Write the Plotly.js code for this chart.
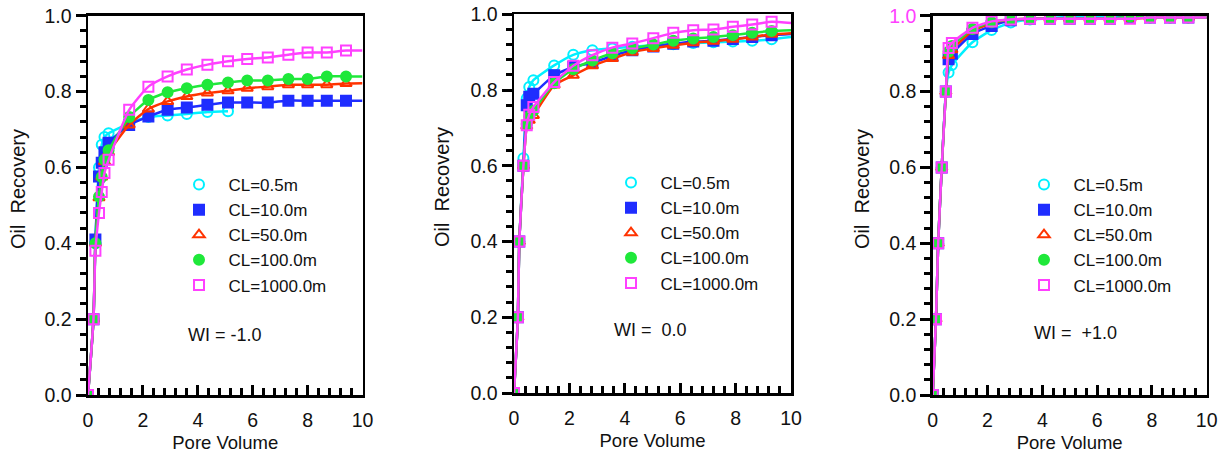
<!DOCTYPE html>
<html>
<head>
<meta charset="utf-8">
<script src="https://cdn.plot.ly/plotly-3.0.1.min.js"></script>
<style>html,body{margin:0;padding:0;background:#fff;}</style>
</head>
<body>
<div id="chart"></div>
<script>
// ---- data ----
var seriesNames = ['CL=0.5m', 'CL=10.0m', 'CL=50.0m', 'CL=100.0m', 'CL=1000.0m'];
var panelLabels = ['WI = -1.0', 'WI =  0.0', 'WI =  +1.0'];
var yTitle = 'Oil  Recovery';
var xTitle = 'Pore Volume';
var yTickVals = [0, 0.2, 0.4, 0.6, 0.8, 1.0];
var yTickText = ['0.0', '0.2', '0.4', '0.6', '0.8', '1.0'];
var curveEndPV = 10;

// Panel 1 : WI = -1.0
var pv1 = [0, 0.2, 0.27, 0.4, 0.5, 0.6, 0.75, 1.5, 2.2, 2.9, 3.6, 4.35, 5.1, 5.8, 6.55, 7.3, 8.0, 8.7, 9.4];
var cyan1 = [0, 0.2, 0.4, 0.60, 0.66, 0.68, 0.69, 0.716, 0.733, 0.737, 0.741, 0.746, 0.748];
var blue1 = [0, 0.2, 0.41, 0.576, 0.612, 0.64, 0.665, 0.712, 0.734, 0.752, 0.758, 0.765, 0.771, 0.771, 0.771, 0.776, 0.776, 0.776, 0.776];
var red1 = [0, 0.2, 0.4, 0.52, 0.575, 0.615, 0.64, 0.712, 0.754, 0.774, 0.787, 0.796, 0.802, 0.809, 0.813, 0.818, 0.818, 0.818, 0.821];
var green1 = [0, 0.2, 0.4, 0.523, 0.575, 0.62, 0.645, 0.733, 0.778, 0.798, 0.809, 0.818, 0.824, 0.829, 0.829, 0.833, 0.833, 0.84, 0.84];
var mag1 = [0, 0.2, 0.38, 0.48, 0.535, 0.585, 0.62, 0.752, 0.813, 0.84, 0.858, 0.871, 0.88, 0.886, 0.89, 0.897, 0.903, 0.903, 0.908];
var end1 = [null, 0.776, 0.822, 0.84, 0.908];

// Panel 2 : WI = 0.0
var pv2 = [0, 0.14, 0.19, 0.34, 0.46, 0.55, 0.7, 1.45, 2.14, 2.83, 3.55, 4.27, 5.03, 5.75, 6.47, 7.2, 7.9, 8.6, 9.3];
var cyan2 = [0, 0.2, 0.4, 0.62, 0.778, 0.808, 0.826, 0.865, 0.893, 0.905, 0.91, 0.914, 0.918, 0.921, 0.924, 0.926, 0.928, 0.93, 0.934];
var blue2 = [0, 0.2, 0.4, 0.6, 0.76, 0.782, 0.79, 0.839, 0.861, 0.872, 0.89, 0.905, 0.915, 0.922, 0.928, 0.93, 0.935, 0.94, 0.945];
var red2 = [0, 0.2, 0.4, 0.6, 0.705, 0.72, 0.733, 0.813, 0.839, 0.864, 0.883, 0.9, 0.91, 0.918, 0.925, 0.929, 0.934, 0.94, 0.947];
var green2 = [0, 0.2, 0.4, 0.6, 0.71, 0.73, 0.745, 0.818, 0.855, 0.878, 0.897, 0.91, 0.92, 0.93, 0.936, 0.94, 0.945, 0.951, 0.956];
var mag2 = [0, 0.2, 0.4, 0.6, 0.707, 0.735, 0.755, 0.821, 0.864, 0.892, 0.912, 0.923, 0.937, 0.951, 0.958, 0.96, 0.967, 0.973, 0.98];
var end2 = [0.94, 0.948, 0.95, 0.958, 0.977];

// Panel 3 : WI = +1.0
var pv3 = [0, 0.12, 0.2, 0.33, 0.48, 0.58, 0.7, 1.45, 2.15, 2.85, 3.55, 4.28, 5.0, 5.74, 6.47, 7.2, 7.93, 8.66, 9.33];
var cyan3 = [0, 0.2, 0.4, 0.6, 0.8, 0.85, 0.87, 0.93, 0.962, 0.982, 0.99, 0.993, 0.998, 0.998, 0.998, 0.995, 0.995, 0.995, 0.995];
var blue3 = [0, 0.2, 0.4, 0.6, 0.8, 0.885, 0.9, 0.952, 0.973, 0.988, 0.992, 0.992, 0.992, 0.992, 0.992, 0.998, 0.995, 0.995, 0.995];
var red3 = [0, 0.2, 0.4, 0.6, 0.8, 0.895, 0.91, 0.96, 0.98, 0.99, 0.992, 0.992, 0.992, 0.992, 0.992, 0.992, 0.995, 0.995, 0.995];
var green3 = [0, 0.2, 0.4, 0.6, 0.8, 0.905, 0.92, 0.965, 0.983, 0.99, 0.992, 0.992, 0.992, 0.992, 0.992, 0.998, 0.995, 0.995, 0.995];
var mag3 = [0, 0.2, 0.4, 0.6, 0.8, 0.915, 0.928, 0.968, 0.985, 0.99, 0.992, 0.992, 0.992, 0.992, 0.992, 0.992, 0.995, 0.995, 0.995];
var end3 = [0.995, 0.995, 0.995, 0.995, 0.995];

// ---- styles ----
var colors = ['#00f0ff', '#1f2dff', '#ff3300', '#1fe83a', '#ff40ff'];
var symbols = ['circle-open', 'square', 'triangle-up-open', 'circle', 'square-open'];
var FONT = 'Liberation Sans, Arial, Helvetica, sans-serif';
var NB = '\u00a0';

var panels = [
  {pv: pv1, ys: [cyan1, blue1, red1, green1, mag1], end: end1},
  {pv: pv2, ys: [cyan2, blue2, red2, green2, mag2], end: end2},
  {pv: pv3, ys: [cyan3, blue3, red3, green3, mag3], end: end3}
];

var traces = [];
panels.forEach(function (p, pi) {
  var ax = pi === 0 ? '' : String(pi + 1);
  var leg = pi === 0 ? 'legend' : 'legend' + (pi + 1);
  p.ys.forEach(function (y, si) {
    var xs = p.pv.slice(0, y.length);
    var lx = xs.slice(), ly = y.slice();
    if (p.end[si] !== null) { lx.push(curveEndPV); ly.push(p.end[si]); }
    traces.push({
      x: lx, y: ly, xaxis: 'x' + ax, yaxis: 'y' + ax,
      mode: 'lines', line: {color: colors[si], width: 2.5, shape: 'spline', smoothing: 0.5},
      showlegend: false, hoverinfo: 'skip'
    });
    traces.push({
      x: xs, y: y, xaxis: 'x' + ax, yaxis: 'y' + ax,
      mode: 'markers', name: NB + NB + seriesNames[si], legend: leg,
      marker: {color: colors[si], symbol: symbols[si], size: 10,
               line: {color: colors[si], width: 2}}
    });
  });
});

var xDomains = [[88 / 1222, 362.5 / 1222], [514 / 1222, 791 / 1222], [932.7 / 1222, 1206.7 / 1222]];
var yDomains = [[1 - 395 / 457, 1 - 15.7 / 457], [1 - 393 / 457, 1 - 14.3 / 457], [1 - 395 / 457, 1 - 15.7 / 457]];

function xAxis(i) {
  return {
    domain: xDomains[i], range: [0, 10], dtick: 2,
    ticks: 'inside', ticklen: 10, tickwidth: 3, tickcolor: '#000', ticklabelstandoff: 6,
    showline: true, linecolor: '#000', linewidth: 2.5, mirror: true,
    showgrid: false, zeroline: false, anchor: i === 0 ? 'y' : 'y' + (i + 1),
    tickfont: {family: FONT, size: 19.5, color: '#111'},
    minor: {dtick: 0.4, ticks: 'inside', ticklen: 7},
    title: {text: xTitle, font: {family: FONT, size: 18.5, color: '#111'}, standoff: 6}
  };
}
function yAxis(i) {
  var a = {
    domain: yDomains[i], range: [0, 1],
    ticks: 'outside', ticklen: 10, tickwidth: 3, tickcolor: '#000',
    showline: true, linecolor: '#000', linewidth: 2.5, mirror: true,
    showgrid: false, zeroline: false, anchor: i === 0 ? 'x' : 'x' + (i + 1),
    tickfont: {family: FONT, size: 19.5, color: '#111'},
    minor: {dtick: 0.04, ticks: 'outside', ticklen: 6}
  };
  if (i === 2) {
    var tt = yTickText.slice();
    tt[5] = '<span style="color:#ff40ff">1.0</span>';
    a.tickmode = 'array'; a.tickvals = yTickVals; a.ticktext = tt;
  } else {
    a.dtick = 0.2; a.tickformat = '.1f';
  }
  return a;
}
function legendAt(xpx, ypx) {
  return {x: xpx / 1222, y: 1 - ypx / 457, xanchor: 'left', yanchor: 'top', bgcolor: 'rgba(0,0,0,0)',
          font: {family: FONT, size: 17, color: '#111'}, traceorder: 'normal'};
}

var yTitlePos = [[18, 189], [442, 187], [862, 189]];
var wiPos = [[186, 335], [612, 330], [1032, 333]];
var annotations = [];
wiPos.forEach(function (p, i) {
  annotations.push({text: panelLabels[i].replace(/  /g, ' ' + NB), x: p[0] / 1222, y: 1 - p[1] / 457,
    xref: 'paper', yref: 'paper', xanchor: 'left', yanchor: 'middle', showarrow: false,
    font: {family: FONT, size: 18, color: '#111'}});
});
yTitlePos.forEach(function (p) {
  annotations.push({text: yTitle.replace(/  /g, NB + NB), x: p[0] / 1222, y: 1 - p[1] / 457, textangle: -90,
    xref: 'paper', yref: 'paper', xanchor: 'center', yanchor: 'middle', showarrow: false,
    font: {family: FONT, size: 20, color: '#111'}});
});

var layout = {
  width: 1222, height: 457, margin: {l: 0, r: 0, t: 0, b: 0},
  showlegend: true,
  font: {family: FONT, color: '#111'},
  xaxis: xAxis(0), yaxis: yAxis(0), xaxis2: xAxis(1), yaxis2: yAxis(1), xaxis3: xAxis(2), yaxis3: yAxis(2),
  legend: legendAt(179, 167), legend2: legendAt(611, 165), legend3: legendAt(1024, 167),
  annotations: annotations
};

Plotly.newPlot('chart', traces, layout, {staticPlot: true});
</script>
</body>
</html>
